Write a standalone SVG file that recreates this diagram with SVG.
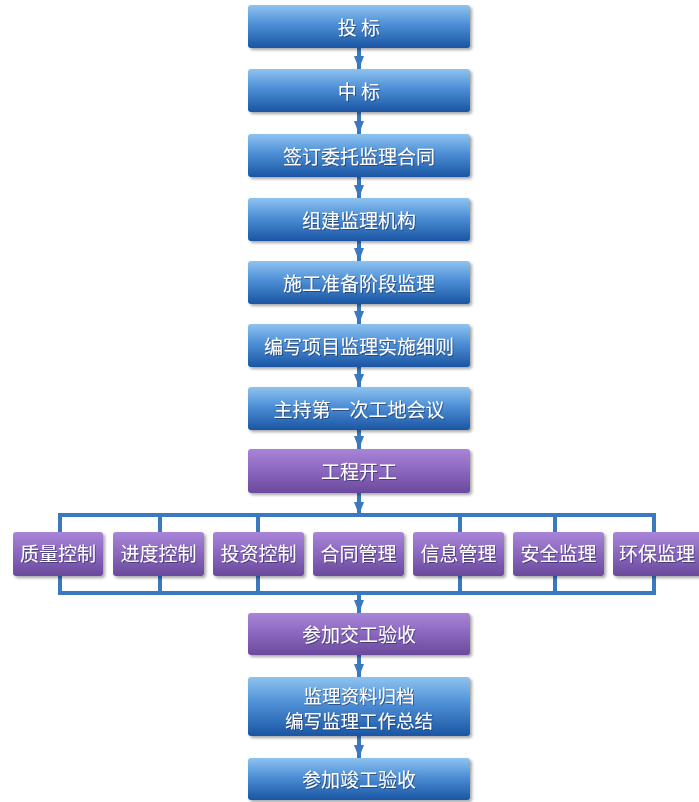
<svg xmlns="http://www.w3.org/2000/svg" width="699" height="802" viewBox="0 0 699 802">
<defs>
<linearGradient id="gb" x1="0" y1="0" x2="0" y2="1">
<stop offset="0" stop-color="#8ec3ef"/>
<stop offset="0.45" stop-color="#4d8fd6"/>
<stop offset="1" stop-color="#1a55a3"/>
</linearGradient>
<linearGradient id="gp" x1="0" y1="0" x2="0" y2="1">
<stop offset="0" stop-color="#a985d8"/>
<stop offset="0.5" stop-color="#8a66be"/>
<stop offset="1" stop-color="#6a4a9c"/>
</linearGradient>
<filter id="sh" x="-10%" y="-20%" width="125%" height="150%">
<feDropShadow dx="2" dy="2" stdDeviation="1.5" flood-color="#000" flood-opacity="0.35"/>
</filter>
<filter id="ts" x="-10%" y="-20%" width="120%" height="150%">
<feDropShadow dx="1" dy="1" stdDeviation="0.6" flood-color="#1a2a50" flood-opacity="0.6"/>
</filter>
<marker id="ah" viewBox="0 0 13 10" refX="13" refY="5" markerWidth="13" markerHeight="10" markerUnits="userSpaceOnUse" orient="auto">
<path d="M0,0 L13,5 L0,10 Z" fill="#3a78c0"/>
</marker>
</defs>
<style>
.b{fill:url(#gb);filter:url(#sh)}
.p{fill:url(#gp);filter:url(#sh)}
.t{font-family:"Noto Sans CJK SC","Noto Sans",sans-serif;font-size:19px;fill:#fff;text-anchor:middle;filter:url(#ts)}
.t2{font-size:18.5px}
.c{stroke:#3a78c0;stroke-width:4;fill:none}
.a{stroke:#3a78c0;stroke-width:4;fill:none;marker-end:url(#ah)}
</style>
<rect width="699" height="802" fill="#fff"/>
<g id="connectors">
<line class="a" x1="359" y1="48" x2="359" y2="69"/>
<line class="a" x1="359" y1="112" x2="359" y2="134"/>
<line class="a" x1="359" y1="177" x2="359" y2="198"/>
<line class="a" x1="359" y1="241" x2="359" y2="261"/>
<line class="a" x1="359" y1="304" x2="359" y2="324"/>
<line class="a" x1="359" y1="367" x2="359" y2="387"/>
<line class="a" x1="359" y1="430" x2="359" y2="449"/>
<line class="a" x1="359" y1="493" x2="359" y2="515"/>
<path class="c" d="M60,532 V515 H654 V532"/>
<path class="c" d="M160,515 V532 M258,515 V532 M460,515 V532 M555,515 V532"/>
<path class="c" d="M60,576 V593 H654 V576"/>
<path class="c" d="M160,576 V593 M258,576 V593 M460,576 V593 M555,576 V593"/>
<line class="a" x1="359" y1="593" x2="359" y2="613"/>
<line class="a" x1="359" y1="655" x2="359" y2="677"/>
<line class="a" x1="359" y1="736" x2="359" y2="758"/>
</g>
<g id="n1"><rect class="b" x="248" y="5" width="222" height="43" rx="3"/><text class="t" x="359" y="35">投 标</text></g>
<g id="n2"><rect class="b" x="248" y="69" width="222" height="43" rx="3"/><text class="t" x="359" y="99">中 标</text></g>
<g id="n3"><rect class="b" x="248" y="134" width="222" height="43" rx="3"/><text class="t" x="359" y="164">签订委托监理合同</text></g>
<g id="n4"><rect class="b" x="248" y="198" width="222" height="43" rx="3"/><text class="t" x="359" y="228">组建监理机构</text></g>
<g id="n5"><rect class="b" x="248" y="261" width="222" height="43" rx="3"/><text class="t" x="359" y="291">施工准备阶段监理</text></g>
<g id="n6"><rect class="b" x="248" y="324" width="222" height="43" rx="3"/><text class="t" x="359" y="354">编写项目监理实施细则</text></g>
<g id="n7"><rect class="b" x="248" y="387" width="222" height="43" rx="3"/><text class="t" x="359" y="417">主持第一次工地会议</text></g>
<g id="n8"><rect class="p" x="248" y="449" width="222" height="44" rx="3"/><text class="t" x="359" y="479">工程开工</text></g>
<g id="s1"><rect class="p" x="13" y="532" width="90" height="44" rx="3"/><text class="t" x="58" y="561">质量控制</text></g>
<g id="s2"><rect class="p" x="113" y="532" width="91" height="44" rx="3"/><text class="t" x="158.5" y="561">进度控制</text></g>
<g id="s3"><rect class="p" x="213" y="532" width="91" height="44" rx="3"/><text class="t" x="258.5" y="561">投资控制</text></g>
<g id="s4"><rect class="p" x="313" y="532" width="91" height="44" rx="3"/><text class="t" x="358.5" y="561">合同管理</text></g>
<g id="s5"><rect class="p" x="413" y="532" width="91" height="44" rx="3"/><text class="t" x="458.5" y="561">信息管理</text></g>
<g id="s6"><rect class="p" x="513" y="532" width="91" height="44" rx="3"/><text class="t" x="558.5" y="561">安全监理</text></g>
<g id="s7"><rect class="p" x="613" y="532" width="91" height="44" rx="3"/><text class="t" x="657" y="561">环保监理</text></g>
<g id="n9"><rect class="p" x="248" y="613" width="222" height="42" rx="3"/><text class="t" x="359" y="642">参加交工验收</text></g>
<g id="n10"><rect class="b" x="248" y="677" width="222" height="59" rx="3"/><text class="t t2" x="359" y="703">监理资料归档</text><text class="t t2" x="359" y="728">编写监理工作总结</text></g>
<g id="n11"><rect class="b" x="248" y="758" width="222" height="42" rx="3"/><text class="t" x="359" y="787">参加竣工验收</text></g>
</svg>
